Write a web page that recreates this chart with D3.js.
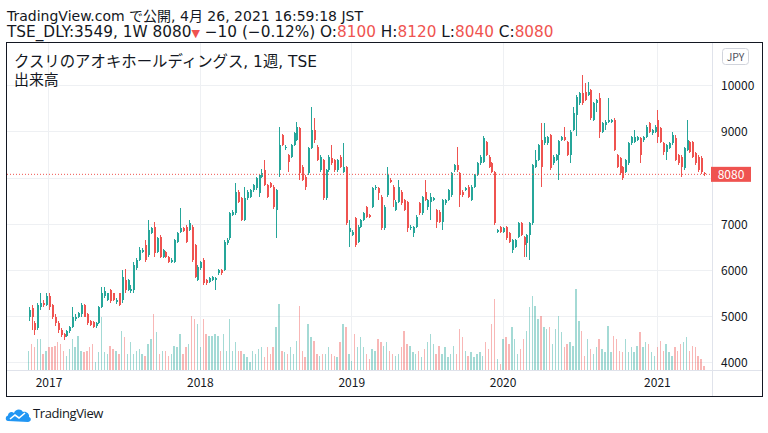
<!DOCTYPE html>
<html><head><meta charset="utf-8">
<script src="https://cdn.jsdelivr.net/npm/d3@7"></script>
<style>
html,body{margin:0;padding:0;background:#fff;}
svg{display:block;font-family:"Noto Sans CJK JP","Noto Sans",sans-serif;}
.hd{font-family:"DejaVu Sans","Noto Sans CJK JP",sans-serif;}
</style></head><body>
<svg id="chart" width="768" height="433"></svg>
<script>
// Weekly candles, TSE:3549, week of 2016-11-14 (index 0) to week of 2021-04-26 (index 232)
const open = [
4980,5180,4850,4750,5200,5300,5250,5450,5250,5000,
4850,4700,4620,4580,4680,4780,4950,4990,5050,5250,
5050,4900,4880,4790,4850,5200,5450,5360,5570,5500,
5320,5500,5360,5790,5574,5560,5574,6050,6224,6404,
6549,6332,6800,6946,6404,6729,6296,6404,6296,6190,
6188,6621,6840,6910,6946,6874,6946,6549,5791,6043,
6224,5791,5755,5790,5790,5935,6007,6007,6585,6693,
7199,7235,7704,7560,7090,7560,7596,7740,7776,7668,
8029,8173,7848,7885,7812,7307,8173,8931,8643,8498,
8462,8715,8823,9076,8246,8029,8101,8643,9040,8679,
8173,8390,7560,8173,8426,8390,8173,8462,8137,8246,
6838,6765,7126,6621,6946,7090,7379,7199,7379,7776,
7776,7596,6910,7632,7957,7812,7307,7487,7704,7524,
7487,6910,6801,6946,7451,7235,7704,7379,7487,7524,
7307,7271,7054,7451,7524,7632,8173,8282,8101,7704,
7740,7812,7524,7812,8065,8318,8354,8787,8462,8318,
8137,6838,6946,6838,6946,6801,6440,6513,6729,7018,
6729,6585,6765,7018,8246,8390,8823,8751,8751,8931,
8318,8390,8498,8823,8895,8787,8498,9040,9365,9617,
9834,9870,9798,9906,9256,9617,9726,9004,9148,9220,
9220,9256,8498,8426,8246,8137,8318,8751,8787,8823,
8859,8823,8895,9184,8968,9004,9256,9076,8751,8570,
8643,8751,8859,8498,8462,8210,8607,8787,8787,8540,
8462,8440,8100];
const high = [
5200,5250,4900,5300,5500,5350,5520,5500,5280,5050,
4900,4750,4650,4700,4800,5200,5050,5100,5300,5280,
5080,4930,4900,4880,5220,5650,5640,5520,5600,5520,
5400,5520,6000,6040,5820,5680,6190,6260,6513,6480,
6657,7090,6950,7050,6720,6760,6470,6430,6320,6260,
6690,6830,7343,6950,6980,7090,6980,6580,6110,6200,
6260,5810,5850,5880,5850,6030,6030,6650,6700,7270,
7300,7885,7740,7600,7812,7730,7770,7880,8020,8090,
8200,8390,7880,7920,7840,7770,9112,8960,8710,8530,
8740,9000,9220,9112,8280,8060,8670,9545,9292,8710,
8490,8420,8200,8490,8715,8420,8420,8490,8751,8270,
7090,6870,7160,6980,7120,7270,7400,7230,7800,7850,
7800,7630,7410,8246,7990,7840,7520,7957,7730,7550,
7510,6980,6970,7190,7480,7620,7957,7550,7668,7590,
7330,7300,7550,7550,7770,8130,8310,8664,8130,7730,
7800,7840,7840,8090,8340,8498,8910,8810,8490,8340,
8160,6900,6970,6940,6970,6830,6680,6680,7040,7040,
6750,6790,7040,8310,8607,8740,9184,9184,8920,8960,
8490,8530,8830,8920,9112,8810,9030,9545,9790,9860,
10231,10051,10087,9930,9640,9720,9834,9210,9250,9726,
9280,9300,8530,8450,8270,8420,8780,8920,9040,8920,
8890,8920,9140,9210,9070,9140,9470,9100,8780,8740,
8780,9004,8931,8530,8490,8670,9256,8810,8810,8570,
8490,8480,8120];
const low = [
4900,4700,4600,4700,5150,5200,5230,5150,4950,4800,
4650,4550,4490,4550,4650,4760,4900,4960,5000,4980,
4820,4790,4750,4760,4830,5180,5400,5330,5300,5330,
5280,5230,5290,5500,5550,5500,5520,6000,6200,6380,
6188,6296,6780,6296,6380,6260,6260,6270,6150,6150,
6160,6600,6800,6830,6590,6850,6190,5830,5760,6000,
5682,5690,5720,5770,5574,5900,5900,5980,6560,6650,
7170,7200,7450,7060,7060,7530,7570,7700,7750,7596,
8000,7820,7560,7780,7340,6693,8029,8690,8600,8137,
8430,8690,8800,7957,7930,7740,8070,8620,8751,8360,
8140,7530,7530,8140,8290,8140,8140,8220,8110,6990,
6513,6740,6510,6590,6920,7060,7130,7130,7350,7750,
7524,6880,6880,7600,7890,7379,7280,7460,7420,7280,
6838,6880,6729,6920,7200,7210,7500,7300,7090,7500,
6910,7030,6874,7420,7500,7600,8140,8140,7379,7600,
7710,7560,7500,7790,8040,8290,8330,8470,8210,8110,
6982,6801,6810,6810,6660,6590,6368,6490,6700,6740,
6296,6296,6224,6990,8220,8360,7812,8720,8720,8180,
8290,8360,7957,8800,8800,8470,8318,9010,8900,9590,
9590,9660,9770,9260,9230,9437,8859,8980,9040,9190,
9190,8580,8220,8070,7960,8110,8290,8720,8760,8800,
8318,8790,8870,8980,8940,8980,8751,8760,8500,8390,
8620,8720,8360,8290,8029,8180,8580,8540,8430,8290,
8140,8090,8040];
const close = [
5150,4990,4700,5250,5300,5250,5450,5200,5000,4850,
4700,4600,4560,4680,4780,4990,5000,5070,5250,5000,
4850,4820,4780,4850,5200,5500,5550,5500,5330,5350,
5360,5250,5860,5574,5790,5590,6116,6230,6441,6441,
6224,6874,6910,6368,6693,6296,6441,6296,6188,6224,
6657,6800,6910,6860,6620,7018,6224,5863,6080,6180,
5718,5718,5827,5863,5827,6007,5935,6621,6657,7235,
7271,7704,7487,7090,7560,7704,7740,7848,7993,8065,
8101,7848,7596,7812,7379,7740,8715,8715,8679,8354,
8715,8968,9112,8101,7957,7812,8643,9040,8823,8390,
8462,7560,8173,8462,8318,8173,8390,8246,8246,7018,
6910,6838,6549,6946,7090,7235,7163,7163,7776,7812,
7668,6910,7379,8065,7921,7524,7487,7812,7451,7307,
6910,6946,6946,7163,7235,7596,7524,7524,7596,7560,
7054,7054,7524,7524,7740,8101,8282,8173,7632,7632,
7776,7596,7812,8065,8318,8462,8859,8498,8246,8137,
7018,6874,6838,6910,6693,6621,6657,6657,7018,6765,
6549,6765,7018,8282,8390,8715,8246,8895,8895,8210,
8462,8498,8800,8895,8823,8498,9004,9401,9762,9834,
9617,9690,9870,9292,9617,9690,9004,9184,9220,9256,
9256,8607,8246,8101,7993,8390,8751,8895,8895,8895,
8498,8895,9112,9004,9040,9112,8895,8787,8570,8715,
8751,8931,8390,8318,8246,8643,8823,8570,8462,8318,
8173,8120,8080];
// weekly volume (thousand shares)
const volume = [
190,260,230,310,310,160,190,230,230,240,
280,260,190,140,210,310,230,340,190,180,
190,230,260,80,180,530,180,160,240,210,
190,160,390,330,160,280,160,190,210,160,
140,260,310,560,380,160,190,190,140,160,
240,230,360,160,230,260,540,510,460,230,
510,360,340,340,360,340,190,360,190,510,
190,280,190,190,160,130,80,190,160,210,
230,130,230,160,230,430,660,190,180,160,
230,160,290,640,190,130,460,330,290,160,
140,160,160,230,160,140,130,280,460,430,
160,90,360,230,330,230,160,110,210,190,
310,280,240,280,190,160,140,160,230,390,
260,240,180,160,190,130,210,280,360,260,
160,240,160,230,130,160,240,160,410,330,
190,140,180,130,160,180,140,280,210,460,
710,110,60,310,330,260,430,310,160,210,
310,390,630,740,640,510,540,430,410,430,
260,410,540,380,230,260,280,240,810,490,
390,140,310,210,160,230,310,210,180,440,
180,340,310,190,180,310,180,230,180,240,
380,230,280,260,180,140,230,290,190,260,
180,140,230,190,260,280,330,190,240,230,
140,110,40];
const priceTicks = [4000,5000,6000,7000,8000,9000,10000];
const yearLabels = ["2017","2018","2019","2020","2021"];
const yearWeekIndex = [7,59,111,163,216];
const lastPrice = 8080;
const titleText = "クスリのアオキホールディングス, 1週, TSE";
const volumeLabel = "出来高";

const svg = d3.select("#chart");
const n = close.length;
const up = "#26a69a", down = "#ef5350";
const x = d3.scaleLinear().domain([0, n - 1]).range([28.6, 704]);
const y = d3.scaleLinear().domain([4000, 10000]).range([362.7, 85.7]);
const vy = d3.scaleLinear().domain([0, 810]).range([369.5, 288.5]);
const idx = d3.range(n);
const isUp = i => close[i] >= open[i];

svg.append("rect").attr("width",768).attr("height",433).attr("fill","#fff");

// header
const hdr = svg.append("g").attr("class","hd").attr("fill","#131722");
hdr.append("text").attr("x",7).attr("y",20.5).style("font-size","14px")
  .text("TradingView.com で公開, 4月 26, 2021 16:59:18 JST");
const l2 = hdr.append("text").attr("x",7).attr("y",36.5).style("font-size","15.3px");
l2.append("tspan").text("TSE_DLY:3549, 1W 8080");
l2.append("tspan").attr("fill",down).style("font-size","11px").text("▼");
l2.append("tspan").text(" −10 (−0.12%) O:");
l2.append("tspan").attr("fill",down).text("8100");
l2.append("tspan").text(" H:");
l2.append("tspan").attr("fill",down).text("8120");
l2.append("tspan").text(" L:");
l2.append("tspan").attr("fill",down).text("8040");
l2.append("tspan").text(" C:");
l2.append("tspan").attr("fill",down).text("8080");

// grid
const grid = svg.append("g").attr("stroke","#eef0f3").attr("shape-rendering","crispEdges");
grid.selectAll("line.h").data(priceTicks).join("line").attr("class","h")
  .attr("x1",7).attr("x2",712).attr("y1",d=>y(d)).attr("y2",d=>y(d));
grid.selectAll("line.v").data(yearWeekIndex).join("line").attr("class","v")
  .attr("x1",d=>x(d)).attr("x2",d=>x(d)).attr("y1",43).attr("y2",370);

// volume
svg.append("g").attr("shape-rendering","crispEdges").selectAll("rect").data(idx).join("rect")
  .attr("x",i=>x(i)-0.7).attr("width",1.4)
  .attr("y",i=>vy(volume[i])).attr("height",i=>vy(0)-vy(volume[i]))
  .attr("fill",i=>isUp(i)?up:down).attr("fill-opacity",0.42);

// candles
const cg = svg.append("g").attr("shape-rendering","crispEdges");
cg.selectAll("line").data(idx).join("line")
  .attr("x1",i=>Math.round(x(i))+0.5).attr("x2",i=>Math.round(x(i))+0.5)
  .attr("y1",i=>y(high[i])).attr("y2",i=>y(low[i]))
  .attr("stroke",i=>isUp(i)?up:down).attr("stroke-width",1);
cg.selectAll("rect").data(idx).join("rect")
  .attr("x",i=>Math.round(x(i))-0.5).attr("width",2)
  .attr("y",i=>y(Math.max(open[i],close[i])))
  .attr("height",i=>Math.max(1,Math.abs(y(open[i])-y(close[i]))))
  .attr("fill",i=>isUp(i)?up:down);

// last price line
svg.append("line").attr("x1",7).attr("x2",711).attr("y1",y(lastPrice)).attr("y2",y(lastPrice))
  .attr("stroke",down).attr("stroke-dasharray","1,2").attr("stroke-width",1);

// axis separators
svg.append("line").attr("x1",712.5).attr("x2",712.5).attr("y1",43).attr("y2",397).attr("stroke","#e0e3eb");
svg.append("line").attr("x1",6).attr("x2",763).attr("y1",370.5).attr("y2",370.5).attr("stroke","#e0e3eb");

// price axis labels (the 8000 label sits under the last-price label)
svg.append("g").attr("fill","#131722").style("font-size","12px").selectAll("text")
  .data(priceTicks.filter(d => Math.abs(y(d) - y(lastPrice)) > 12)).join("text")
  .attr("x",721).attr("y",d=>y(d)).attr("dy","0.36em").text(d=>d);
// last price label
svg.append("rect").attr("x",711).attr("y",y(lastPrice)-7.5).attr("width",40).attr("height",15).attr("fill",down);
svg.append("text").attr("x",731).attr("y",y(lastPrice)).attr("dy","0.36em").attr("text-anchor","middle")
  .attr("fill","#fff").style("font-size","12px").text(lastPrice);

// JPY box
svg.append("rect").attr("x",722.5).attr("y",48.5).attr("width",26).attr("height",16).attr("rx",3)
  .attr("fill","#fff").attr("stroke","#d1d4dc");
svg.append("text").attr("x",735.5).attr("y",57).attr("dy","0.36em").attr("text-anchor","middle")
  .attr("fill","#50535e").style("font-size","10.5px").text("JPY");

// time axis labels
svg.append("g").attr("fill","#131722").style("font-size","12px").selectAll("text").data(yearWeekIndex).join("text")
  .attr("x",d=>x(d)).attr("y",383).attr("dy","0.36em").attr("text-anchor","middle")
  .text((d,i)=>yearLabels[i]);

// titles
svg.append("text").attr("class","hd").attr("x",14).attr("y",66.5).attr("fill","#131722").style("font-size","15.4px")
  .text(titleText);
svg.append("text").attr("class","hd").attr("x",14).attr("y",84.5).attr("fill","#131722").style("font-size","14.9px").text(volumeLabel);

// frame
svg.append("rect").attr("x",6.5).attr("y",42.5).attr("width",756).attr("height",354)
  .attr("fill","none").attr("stroke","#131722").attr("stroke-width",1);

// footer logo
const logo = svg.append("g").attr("transform","translate(6,408)");
logo.append("path").attr("d","M2,13 C-1,13 -1,8 2,7.5 C2,4 6,3 8,5 C9,1 15,0 17,4 C20,3 24,6 23,9 C26,10 25,14 22,14 Z").attr("fill","#2196f3");
logo.append("path").attr("d","M4,11 L9,7 L13,10 L19,5").attr("fill","none").attr("stroke","#fff").attr("stroke-width",1.6);
svg.append("text").attr("x",33).attr("y",418).attr("fill","#131722").style("font-size","13px")
  .style("font-family","'Open Sans',sans-serif").attr("letter-spacing","-0.4").text("TradingView");
</script>
</body></html>
